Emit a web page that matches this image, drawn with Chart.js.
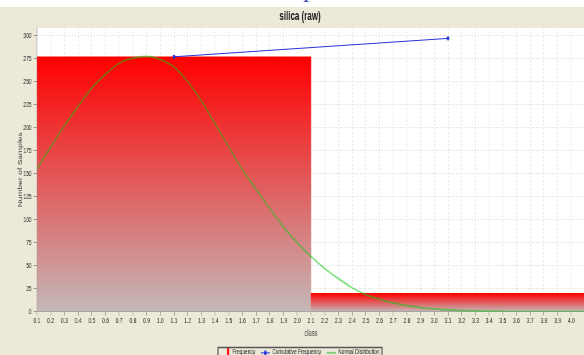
<!DOCTYPE html>
<html>
<head>
<meta charset="utf-8">
<script src="https://cdn.jsdelivr.net/npm/chart.js@4/dist/chart.umd.min.js"></script>
<style>
  html, body { margin: 0; padding: 0; background: #ffffff; overflow: hidden; width: 584px; height: 355px; }
  #heading { position: absolute; left: 0; top: -24px; width: 596px; text-align: center;
             font: 26px/26px "Liberation Serif", "DejaVu Serif", serif; color: #3a4fb0; }
  #frame { position: absolute; left: 0; top: 7px; width: 600px; height: 359px; background: #ece9d8; }
  #frame canvas { display: block; }
</style>
</head>
<body>
<div id="heading">sample</div>
<div id="frame">
  <!-- drawn at 900 px wide and shown at 600 px, which gives the narrow lettering -->
  <canvas id="chart" width="900" height="359" style="width:600px;height:359px"></canvas>
</div>
<script>
// Histogram bins (class edges) and counts
const binEdges = [0.1, 2.1, 4.1];
const binCenters = [1.1, 3.1];
const frequency = [277, 20];

// Running total of the counts, plotted at each bin centre
const cumulativeFrequency = frequency.reduce((acc, v) => { acc.push((acc.length ? acc[acc.length - 1] : 0) + v); return acc; }, []);

// Fitted normal curve sampled at each class mark
const classMarks = [0.1, 0.2, 0.3, 0.4, 0.5, 0.6, 0.7, 0.8, 0.9, 1.0,
                    1.1, 1.2, 1.3, 1.4, 1.5, 1.6, 1.7, 1.8, 1.9, 2.0,
                    2.1, 2.2, 2.3, 2.4, 2.5, 2.6, 2.7, 2.8, 2.9, 3.0,
                    3.1, 3.2, 3.3, 3.4, 3.5, 3.6, 3.7, 3.8, 3.9, 4.0, 4.1];
const normalDistribution = [155, 179, 202, 223, 243, 258, 270, 275.5, 277.5, 274,
                            266, 250, 229, 204, 179, 154, 133, 112, 92, 75,
                            60, 47, 36, 26, 18.5, 13.5, 9.5, 6.5, 4.5, 3,
                            2, 1.2, 0.8, 0.5, 0.2, 0, 0, 0, 0, 0, 0];

// Axis ranges and tick spacing
const classRange = [0.1, 4.1];
const lastClassLabel = 4.0;
const classStep = 0.1;
const countRange = [0, 308.4];
const countStep = 25;

const FONT = '"Liberation Sans", Arial, sans-serif';

// Small legend icons
function legendIcon(draw) {
  const c = document.createElement('canvas');
  c.width = 14; c.height = 8;
  draw(c.getContext('2d'));
  return c;
}
const iconFrequency = legendIcon(g => { g.fillStyle = '#ff0000'; g.fillRect(10, 0, 3, 8); });
const iconCumulative = legendIcon(g => {
  g.strokeStyle = '#2233dd'; g.lineWidth = 1;
  g.beginPath(); g.moveTo(0, 4.5); g.lineTo(14, 4.5); g.stroke();
  g.fillStyle = '#2233dd'; g.fillRect(5, 2.5, 4, 4);
});
const iconNormal = legendIcon(g => {
  g.strokeStyle = '#44bb44'; g.lineWidth = 1.2;
  g.beginPath(); g.moveTo(0, 4.5); g.lineTo(14, 4.5); g.stroke();
});

function barGradient(ctx) {
  const chart = ctx.chart;
  if (!chart.chartArea || ctx.type !== 'data') return '#ff0000';
  const y = chart.scales.y;
  const top = y.getPixelForValue(ctx.parsed.y);
  const bottom = y.getPixelForValue(0);
  if (!isFinite(top) || !isFinite(bottom) || bottom - top < 1) return '#ff0000';
  const g = chart.ctx.createLinearGradient(0, top, 0, bottom);
  g.addColorStop(0, '#ff0000');
  g.addColorStop(1, '#c4b8b8');
  return g;
}

const plotBackground = {
  id: 'plotBackground',
  beforeDraw(chart) {
    const { ctx, chartArea: a } = chart;
    ctx.save();
    ctx.fillStyle = '#ffffff';
    ctx.fillRect(a.left, a.top, a.right - a.left, a.bottom - a.top);
    ctx.restore();
  }
};

const legendFrame = {
  id: 'legendFrame',
  afterDraw(chart) {
    const boxes = chart.legend && chart.legend.legendHitBoxes;
    if (!boxes || !boxes.length) return;
    let x0 = Infinity, y0 = Infinity, x1 = -Infinity, y1 = -Infinity;
    boxes.forEach(b => { x0 = Math.min(x0, b.left); y0 = Math.min(y0, b.top); x1 = Math.max(x1, b.left + b.width); y1 = Math.max(y1, b.top + b.height); });
    const ctx = chart.ctx;
    ctx.save();
    ctx.strokeStyle = '#555555';
    ctx.lineWidth = 1.5;
    ctx.strokeRect(Math.round(x0 - 4), Math.round(y0 - 2) + 0.5, Math.round(x1 - x0 + 8), Math.round(y1 - y0 + 6));
    ctx.restore();
  }
};

new Chart(document.getElementById('chart'), {
  type: 'line',
  data: {
    datasets: [
      {
        type: 'bar',
        label: 'Frequency',
        xAxisID: 'xBins',
        data: binCenters.map((x, i) => ({ x, y: frequency[i] })),
        backgroundColor: barGradient,
        borderWidth: 0,
        barPercentage: 1,
        categoryPercentage: 1,
        grouped: false,
        order: 3
      },
      {
        label: 'Cumulative Frequency',
        data: binCenters.map((x, i) => ({ x, y: cumulativeFrequency[i] })),
        borderColor: '#2a35d8',
        backgroundColor: '#2a35d8',
        borderWidth: 1,
        pointStyle: 'rect',
        pointRadius: 2,
        tension: 0,
        order: 1
      },
      {
        label: 'Normal Distribution',
        data: classMarks.map((x, i) => ({ x, y: normalDistribution[i] })),
        borderColor: 'rgba(20, 200, 20, 0.55)',
        borderWidth: 1.8,
        pointRadius: 0,
        cubicInterpolationMode: 'monotone',
        order: 2
      }
    ]
  },
  options: {
    responsive: false,
    animation: false,
    layout: { padding: 0 },
    scales: {
      x: {
        type: 'linear',
        min: classRange[0],
        max: classRange[1],
        offset: false,
        afterFit(scale) { scale.height = 29; },
        afterBuildTicks(scale) { scale.ticks = scale.ticks.filter(t => t.value <= lastClassLabel + 1e-9); },
        ticks: {
          stepSize: classStep,
          includeBounds: false,
          autoSkip: false,
          maxRotation: 0,
          padding: 1.2,
          color: '#222222',
          font: { family: FONT, size: 7.5 },
          callback: v => Number(v).toFixed(1)
        },
        grid: { offset: false, color: '#e2e2e2', tickColor: '#999999', tickLength: 4 },
        border: { color: '#999999', dash: [2, 2] },
        title: { display: true, text: 'class', color: '#444444', font: { family: FONT, size: 8.5 }, padding: { top: 0, bottom: 2.3 } }
      },
      xBins: {
        type: 'linear',
        display: false,
        min: classRange[0],
        max: classRange[1],
        offset: false,
        afterBuildTicks(scale) { scale.ticks = binEdges.map(value => ({ value })); }
      },
      y: {
        type: 'linear',
        min: countRange[0],
        max: countRange[1],
        afterFit(scale) { scale.width = 55.5; },
        ticks: {
          stepSize: countStep,
          includeBounds: false,
          padding: 3,
          color: '#222222',
          font: { family: FONT, size: 7.5 }
        },
        grid: { color: '#e2e2e2', tickColor: '#999999', tickLength: 5 },
        border: { color: '#999999', dash: [2, 2] },
        title: { display: true, text: 'Number of Samples', color: '#444444', font: { family: FONT, size: 8.5 }, padding: { top: 26, bottom: 0 } }
      },
      // empty strip on the right of the plot; title and legend still span the full width
      yGutter: {
        type: 'linear',
        position: 'right',
        display: true,
        afterFit(scale) { scale.width = 22.5; },
        ticks: { display: false },
        grid: { display: false, drawTicks: false },
        border: { display: false },
        title: { display: false }
      }
    },
    plugins: {
      title: {
        display: true,
        text: 'silica (raw)',
        color: '#111111',
        font: { family: FONT, size: 12, weight: 'bold' },
        padding: { top: 2.5, bottom: 4 }
      },
      legend: {
        position: 'bottom',
        labels: {
          usePointStyle: true,
          pointStyleWidth: 14,
          boxHeight: 7,
          padding: 8,
          color: '#222222',
          font: { family: FONT, size: 7.3 },
          sort: (a, b) => a.datasetIndex - b.datasetIndex,
          generateLabels(chart) {
            const icons = [iconFrequency, iconCumulative, iconNormal];
            return chart.data.datasets.map((ds, i) => ({
              text: ds.label,
              datasetIndex: i,
              pointStyle: icons[i],
              fillStyle: 'transparent',
              strokeStyle: 'transparent',
              lineWidth: 0,
              hidden: false,
              fontColor: '#222222'
            }));
          }
        }
      },
      tooltip: { enabled: false }
    }
  },
  plugins: [plotBackground, legendFrame]
});
</script>
</body>
</html>
